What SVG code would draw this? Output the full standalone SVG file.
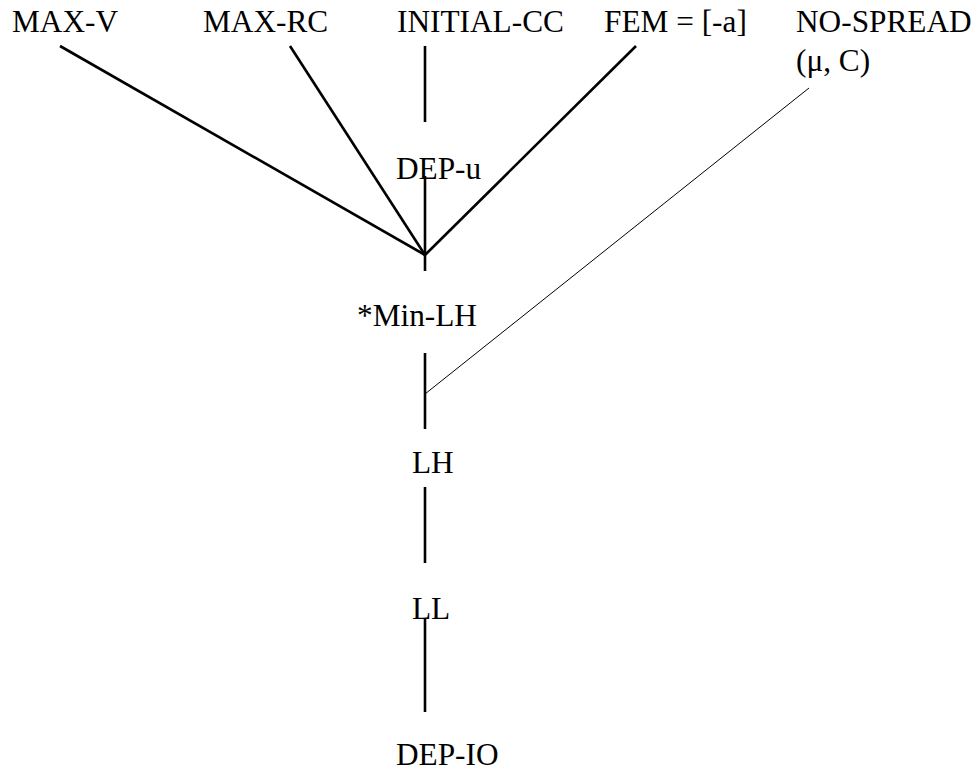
<svg xmlns="http://www.w3.org/2000/svg" width="979" height="772" viewBox="0 0 979 772">
<style>
text{font-family:"Liberation Serif","Times New Roman",serif;font-size:31.3px;fill:#000}
.c{stroke:#000;stroke-width:2.6;fill:none}
.t{stroke:#000;stroke-width:1;fill:none}
</style>
<rect width="979" height="772" fill="#fff"/>
<g id="connectors">
<line class="c" x1="60" y1="46" x2="425" y2="255"/>
<line class="c" x1="290" y1="46" x2="425" y2="255"/>
<line class="c" x1="425" y1="46" x2="425" y2="122"/>
<line class="c" x1="636" y1="46" x2="425" y2="255"/>
<line class="c" x1="425" y1="176" x2="425" y2="271"/>
<line class="c" x1="425" y1="353" x2="425" y2="429"/>
<line class="t" x1="809" y1="88" x2="425" y2="394"/>
<line class="c" x1="425" y1="487" x2="425" y2="563"/>
<line class="c" x1="425" y1="618" x2="425" y2="712"/>
</g>
<g id="max-v"><text x="12" y="32" font-family="Liberation Serif, serif">MAX-V</text></g>
<g id="max-rc"><text x="203" y="32" font-family="Liberation Serif, serif">MAX-RC</text></g>
<g id="initial-cc"><text x="397" y="32" font-family="Liberation Serif, serif">INITIAL-CC</text></g>
<g id="fem"><text x="604" y="32" font-family="Liberation Serif, serif">FEM = [-a]</text></g>
<g id="no-spread"><text x="796" y="32" font-family="Liberation Serif, serif">NO-SPREAD</text><text x="796" y="71" font-family="Liberation Serif, serif">(μ, C)</text></g>
<g id="dep-u"><text x="396" y="179" font-family="Liberation Serif, serif">DEP-u</text></g>
<g id="min-lh"><text x="357" y="326" font-family="Liberation Serif, serif">*Min-LH</text></g>
<g id="lh"><text x="412" y="473" font-family="Liberation Serif, serif">LH</text></g>
<g id="ll"><text x="412" y="619" font-family="Liberation Serif, serif">LL</text></g>
<g id="dep-io"><text x="396" y="765" font-family="Liberation Serif, serif">DEP-IO</text></g>
</svg>
